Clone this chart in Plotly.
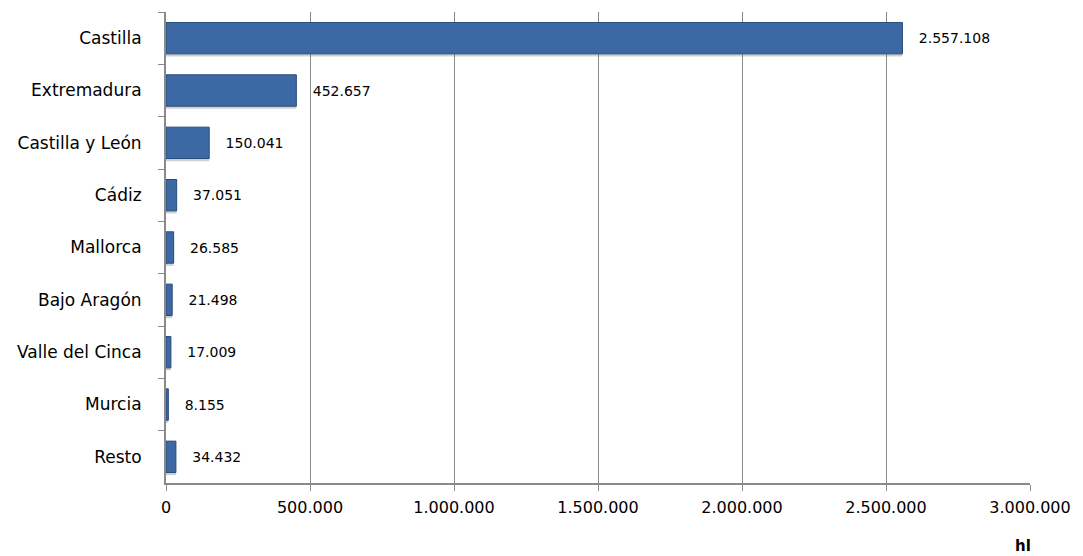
import plotly.graph_objects as go

categories = ["Castilla", "Extremadura", "Castilla y León", "Cádiz", "Mallorca",
              "Bajo Aragón", "Valle del Cinca", "Murcia", "Resto"]
values = [2557108, 452657, 150041, 37051, 26585, 21498, 17009, 8155, 34432]
x_ticks = [0, 500000, 1000000, 1500000, 2000000, 2500000, 3000000]
x_tick_labels = ["0", "500.000", "1.000.000", "1.500.000", "2.000.000", "2.500.000", "3.000.000"]
unit_label = "hl"

def fmt(v):
    return f"{v:,}".replace(",", ".")

# the page body adds an 8px offset, so the figure is sized 8px smaller
W, H = 1075, 548
L, R, T, B = 158, 53, 4, 73
pw, ph = W - L - R, H - T - B

fig = go.Figure()
# soft shadow under bars
fig.add_trace(go.Bar(
    y=categories, x=values, orientation="h",
    marker=dict(color="rgba(120,120,120,0.35)", line=dict(width=0)),
    offset=-0.27, width=0.62, hoverinfo="skip",
))
fig.add_trace(go.Bar(
    y=categories, x=values, orientation="h",
    marker=dict(color="#3c69a3", line=dict(color="#2a4c7c", width=1)),
    offset=-0.3, width=0.6,
    text=["   " + fmt(v) for v in values],
    textposition="outside", cliponaxis=False,
    textfont=dict(family="DejaVu Sans", size=14, color="#000000"),
))
fig.update_layout(
    width=W, height=H,
    margin=dict(l=L, r=R, t=T, b=B),
    paper_bgcolor="white", plot_bgcolor="white",
    barmode="overlay", showlegend=False,
    font=dict(family="DejaVu Sans", size=16, color="#000000"),
    xaxis=dict(range=[0, 3000000], tickvals=x_ticks, ticktext=x_tick_labels,
               showgrid=True, gridcolor="#8a8a8a", gridwidth=1,
               showline=True, linecolor="#8a8a8a", linewidth=2,
               ticks="outside", ticklen=6, tickcolor="#8a8a8a", zeroline=False,
               automargin=False, tickfont=dict(size=16), ticklabelstandoff=3),
    yaxis=dict(autorange="reversed", showgrid=False, showline=True,
               linecolor="#8a8a8a", linewidth=2, ticks="outside", ticklen=6,
               tickcolor="#8a8a8a", tickson="boundaries", automargin=False,
               ticklabelstandoff=19, tickfont=dict(size=17)),
    annotations=[dict(text="<b>" + unit_label + "</b>", xref="paper", yref="paper",
                      x=(1023 - 8 - L) / pw, y=-(546 - 8 - (T + ph)) / ph,
                      xanchor="center", yanchor="middle",
                      showarrow=False, font=dict(size=15))],
)
fig.write_html("out.html")
